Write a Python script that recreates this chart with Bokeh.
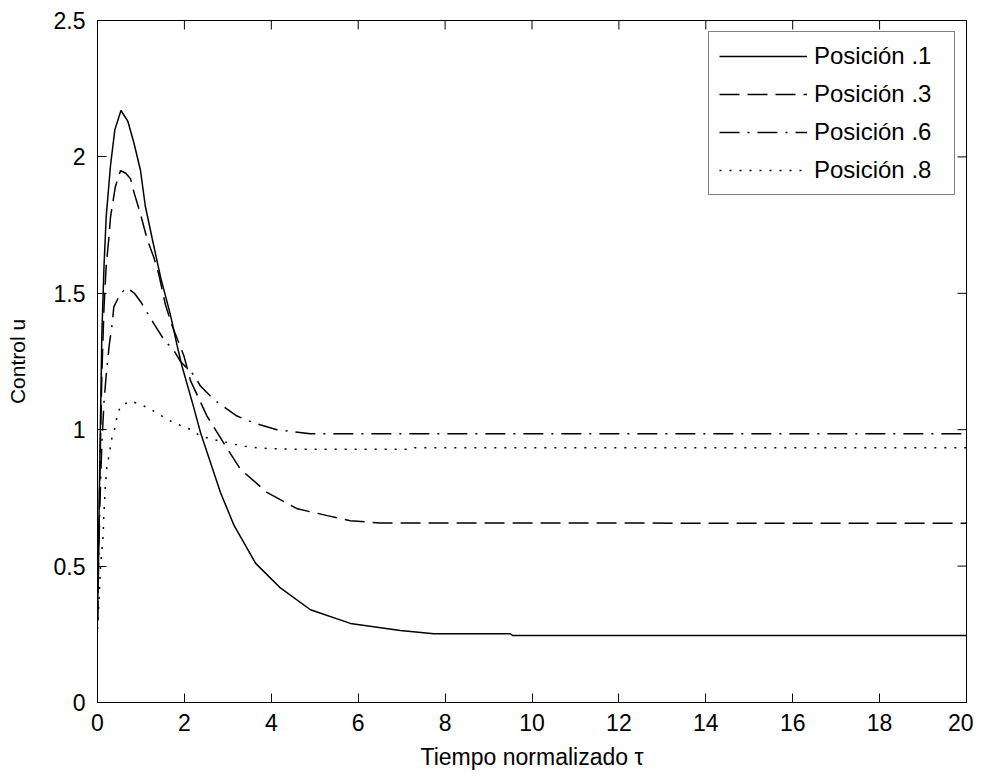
import math
from bokeh.plotting import figure
from bokeh.models import FixedTicker, Range1d
from bokeh.embed import file_html
from bokeh.resources import INLINE

# ---------------- data ----------------
t1 = [0, 0.05, 0.1, 0.15, 0.2, 0.3, 0.4, 0.54, 0.7, 0.84, 0.99, 1.1, 1.26, 1.45, 1.68, 1.83,
      1.95, 2.2, 2.37, 2.6, 2.83, 3.14, 3.64, 4.21, 4.9, 5.82, 6.97, 7.74, 9.5, 9.55, 20]
u1 = [0.3, 0.85, 1.35, 1.6, 1.78, 1.97, 2.1, 2.17, 2.13, 2.05, 1.95, 1.82, 1.70, 1.56, 1.42, 1.31,
      1.23, 1.09, 0.99, 0.88, 0.77, 0.65, 0.51, 0.42, 0.34, 0.29, 0.264, 0.252, 0.252, 0.246, 0.246]

t3 = [0, 0.05, 0.1, 0.15, 0.2, 0.26, 0.3, 0.41, 0.53, 0.65, 0.76, 0.84, 0.99, 1.14, 1.30, 1.41,
      1.56, 1.72, 1.99, 2.14, 2.52, 2.95, 3.29, 3.9, 4.6, 5.29, 5.82, 6.5, 20]
u3 = [0.3, 0.8, 1.2, 1.45, 1.6, 1.70, 1.78, 1.89, 1.95, 1.94, 1.92, 1.87, 1.79, 1.70, 1.63, 1.57,
      1.46, 1.38, 1.27, 1.18, 1.05, 0.94, 0.855, 0.77, 0.71, 0.685, 0.666, 0.658, 0.657]

t6 = [0, 0.05, 0.1, 0.15, 0.2, 0.27, 0.34, 0.375, 0.53, 0.68, 0.85, 0.99, 1.14, 1.37, 1.53, 1.76,
      1.91, 2.22, 2.37, 2.68, 3.21, 3.6, 4.13, 4.9, 20]
u6 = [0.3, 0.7, 0.95, 1.1, 1.2, 1.31, 1.39, 1.45, 1.50, 1.52, 1.50, 1.47, 1.43, 1.37, 1.33, 1.29,
      1.25, 1.20, 1.16, 1.11, 1.05, 1.025, 1.0, 0.985, 0.985]

t8 = [0, 0.03, 0.07, 0.13, 0.145, 0.18, 0.22, 0.26, 0.30, 0.34, 0.41, 0.45, 0.53, 0.76, 0.99, 1.22,
      1.45, 1.68, 1.91, 2.14, 2.37, 2.64, 3.06, 3.33, 3.75, 4.67, 7.2, 7.3, 20]
u8 = [0.27, 0.36, 0.50, 0.61, 0.685, 0.79, 0.87, 0.90, 0.94, 0.977, 1.01, 1.05, 1.087, 1.105, 1.093, 1.075,
      1.053, 1.032, 1.016, 1.001, 0.977, 0.965, 0.950, 0.94, 0.932, 0.928, 0.928, 0.934, 0.934]

series_labels = ["Posición .1", "Posición .3", "Posición .6", "Posición .8"]

x_ticks = [0, 2, 4, 6, 8, 10, 12, 14, 16, 18, 20]
y_ticks = [0, 0.5, 1, 1.5, 2, 2.5]
y_tick_labels = ["0", "0.5", "1", "1.5", "2", "2.5"]

x_label = "Tiempo normalizado τ"
y_label = "Control u"

X_MIN, X_MAX = 0, 20
Y_MIN, Y_MAX = 0, 2.5

# ---------------- figure ----------------
FONT = "Liberation Sans"
FS = "23px"
TICK_LEN = 9

p = figure(width=973, height=772, output_backend="svg", toolbar_location=None,
           x_range=Range1d(X_MIN, X_MAX), y_range=Range1d(Y_MIN, Y_MAX),
           min_border_left=97, min_border_right=7, min_border_top=20, min_border_bottom=68)
p.background_fill_color = "white"
p.border_fill_color = "white"
p.outline_line_color = "black"
p.outline_line_width = 1
p.xgrid.visible = False
p.ygrid.visible = False

styles = [None, "20 8", "20 8 2 8", "2 8"]
data = [(t1, u1), (t3, u3), (t6, u6), (t8, u8)]
for (tx, ux), lab, dash in zip(data, series_labels, styles):
    kw = dict(line_color="black", line_width=1.5, legend_label=lab)
    if dash is not None:
        kw["line_dash"] = dash
    p.line(tx, ux, **kw)

# inward ticks on the top and right edges of the box
p.ray(x=x_ticks, y=[Y_MAX] * len(x_ticks), length=TICK_LEN, length_units="screen",
      angle=-math.pi / 2, line_color="black", line_width=1)
p.ray(x=[X_MAX] * len(y_ticks), y=y_ticks, length=TICK_LEN, length_units="screen",
      angle=math.pi, line_color="black", line_width=1)

def style_axis(ax, ticks):
    ax.ticker = FixedTicker(ticks=ticks)
    ax.axis_line_color = "black"
    ax.axis_line_width = 1
    ax.major_tick_in = TICK_LEN
    ax.major_tick_out = 0
    ax.major_tick_line_color = "black"
    ax.minor_tick_line_color = None
    ax.major_label_text_font = FONT
    ax.major_label_text_color = "black"
    ax.major_label_text_font_size = FS
    ax.axis_label_text_font = FONT
    ax.axis_label_text_font_style = "normal"
    ax.axis_label_text_color = "black"

xa = p.xaxis[0]
style_axis(xa, x_ticks)
xa.major_label_standoff = 11
xa.axis_label = x_label
xa.axis_label_text_font_size = FS
xa.axis_label_standoff = 10

ya = p.yaxis[0]
style_axis(ya, y_ticks)
ya.major_label_overrides = {v: s for v, s in zip(y_ticks, y_tick_labels)}
ya.major_label_standoff = 12
ya.axis_label = y_label
ya.axis_label_text_font_size = "21px"
ya.axis_label_standoff = 22

lg = p.legend[0]
lg.location = "top_right"
lg.margin = 11
lg.border_line_color = "black"
lg.border_line_width = 1
lg.background_fill_color = "white"
lg.background_fill_alpha = 1
lg.label_text_font = FONT
lg.label_text_font_size = "24px"
lg.label_text_color = "black"
lg.glyph_width = 88
lg.glyph_height = 24
lg.label_height = 24
lg.label_width = 130
lg.label_standoff = 7
lg.spacing = 10
lg.padding = 10

open("out.html", "w").write(file_html(p, INLINE))
